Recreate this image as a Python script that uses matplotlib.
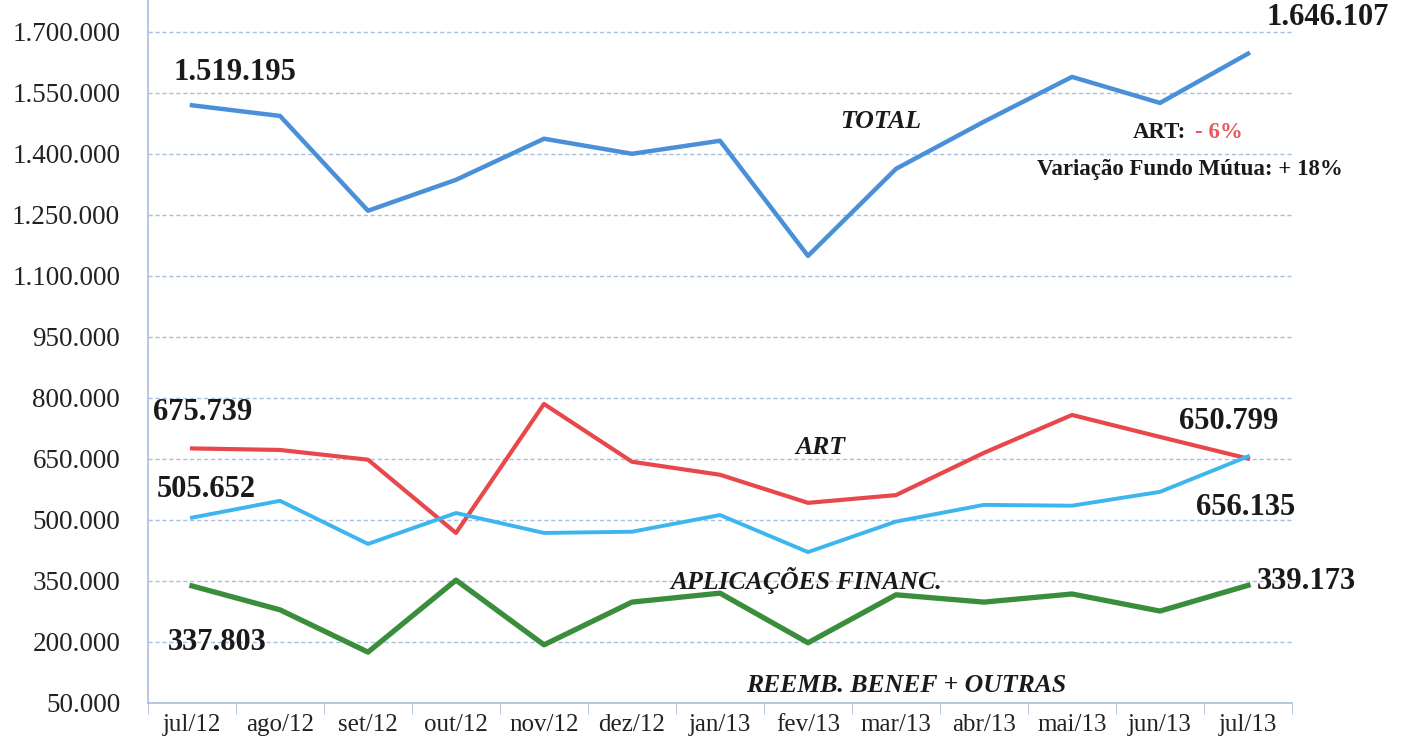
import matplotlib
matplotlib.use("Agg")
import matplotlib.pyplot as plt
from matplotlib.ticker import FuncFormatter, FixedLocator

months = ["jul/12", "ago/12", "set/12", "out/12", "nov/12", "dez/12", "jan/13",
          "fev/13", "mar/13", "abr/13", "mai/13", "jun/13", "jul/13"]

total = [1519195, 1493000, 1260000, 1336000, 1437000, 1400000, 1432000,
         1149000, 1363000, 1479000, 1589000, 1525000, 1646107]
art = [675739, 672000, 648000, 468000, 785000, 643000, 611000,
       542000, 561000, 665000, 758000, 704000, 650799]
aplic = [505652, 547000, 441000, 517000, 468000, 471000, 512000,
         421000, 496000, 537000, 535000, 569000, 656135]
reemb = [337803, 279000, 175000, 352000, 193000, 298000, 320000,
         198000, 316000, 298000, 318000, 276000, 339173]

yticks = list(range(50000, 1700001, 150000))

plt.rcParams['font.family'] = ['Liberation Serif', 'DejaVu Serif']

fig = plt.figure(figsize=(14.05, 7.45), dpi=100)
ax = fig.add_axes([148 / 1405, 1 - 703 / 745, (1292 - 148) / 1405, 703 / 745])

x = list(range(len(months)))
ax.plot(x, total, color="#4a90d9", lw=3.2, zorder=3)
ax.plot(x, art, color="#e8474c", lw=3.0, zorder=3)
ax.plot(x, aplic, color="#3db5ef", lw=2.8, zorder=3)
ax.plot(x, reemb, color="#3a8d3a", lw=3.8, zorder=3)

ax.set_xlim(-0.5, len(months) - 0.5)
ax.set_ylim(50000, 1778000)
ax.set_yticks(yticks)
ax.yaxis.set_major_formatter(FuncFormatter(lambda v, p: f"{int(v):,}".replace(",", ".")))
ax.set_xticks(x)
ax.set_xticklabels(months)
ax.xaxis.set_minor_locator(FixedLocator([i - 0.5 for i in range(len(months) + 1)]))
ax.tick_params(axis="x", which="major", length=0, pad=8, labelsize=18, colors="#222222")
ax.tick_params(axis="x", which="minor", length=8, color="#a9bedb", direction="out")
ax.tick_params(axis="y", length=0, pad=20, labelsize=19.5, colors="#222222")

ax.grid(axis="y", color="#a9c1de", ls=(0, (3, 2)), lw=1.0)
for s in ["top", "right"]:
    ax.spines[s].set_visible(False)
for s in ["left", "bottom"]:
    ax.spines[s].set_color("#a9bedb")
    ax.spines[s].set_linewidth(1.2)

vfont = dict(fontsize=22, fontweight="bold", color="#1a1a1a")
sfont = dict(fontsize=18.5, fontweight="bold", style="italic", color="#1a1a1a")

ax.text(0.49, 1600000, "1.519.195", ha="center", va="center", **vfont)
ax.text(12.9, 1734000, "1.646.107", ha="center", va="center", **vfont)
ax.text(-0.44, 765000, "675.739", ha="left", va="center", **vfont)
ax.text(11.78, 743000, "650.799", ha="center", va="center", **vfont)
ax.text(-0.40, 574000, "505.652", ha="left", va="center", **vfont)
ax.text(11.97, 529500, "656.135", ha="center", va="center", **vfont)
ax.text(12.1, 347500, "339.173", ha="left", va="center", **vfont)
ax.text(-0.27, 197500, "337.803", ha="left", va="center", **vfont)

ax.text(7.83, 1479000, "TOTAL", ha="center", va="center", **sfont)
ax.text(7.14, 679000, "ART", ha="center", va="center", **sfont)
ax.text(6.98, 352000, "APLICAÇÕES FINANC.", ha="center", va="center", **sfont)
ax.text(8.11, 94000, "REEMB. BENEF + OUTRAS", ha="center", va="center", **sfont)

ax.text(11.3, 1452000, "ART:", ha="right", va="center", fontsize=16.5,
        fontweight="bold", color="#1a1a1a")
ax.text(11.4, 1452000, "- 6%", ha="left", va="center", fontsize=16.5,
        fontweight="bold", color="#e8585c")
ax.text(11.34, 1361000, "Variação Fundo Mútua: + 18%", ha="center", va="center",
        fontsize=16.5, fontweight="bold", color="#1a1a1a")

fig.savefig("out.png", dpi=100)
